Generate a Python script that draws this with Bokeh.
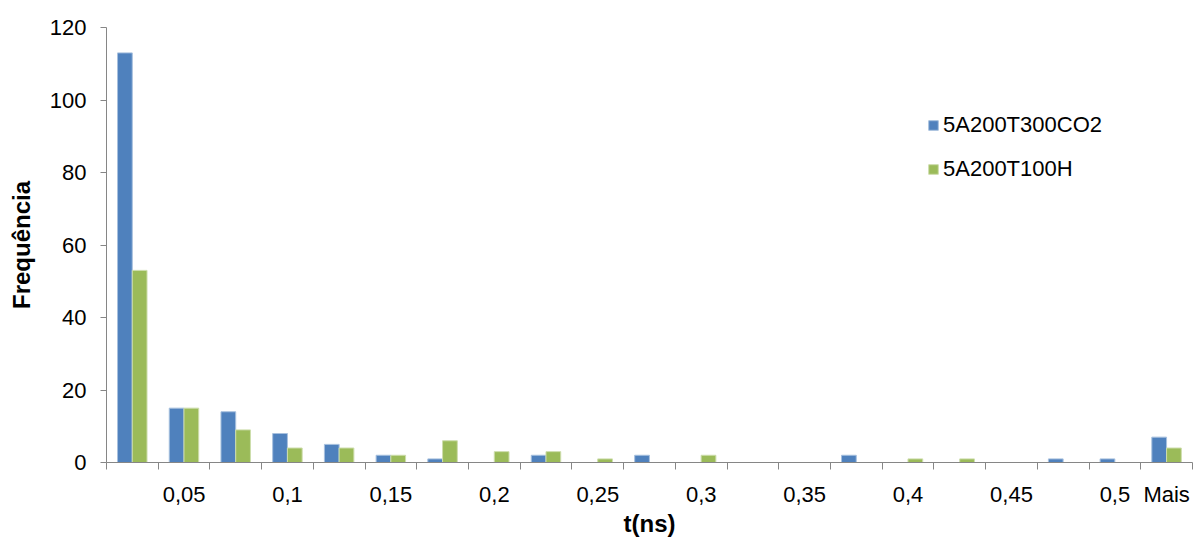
import numpy as np
from bokeh.plotting import figure
from bokeh.models import ColumnDataSource, FixedTicker, Range1d
from bokeh.embed import file_html
from bokeh.resources import INLINE

# ---- data ----
bin_labels = ["", "0,05", "", "0,1", "", "0,15", "", "0,2", "", "0,25", "",
              "0,3", "", "0,35", "", "0,4", "", "0,45", "", "0,5", "Mais"]
series_names = ["5A200T300CO2", "5A200T100H"]
co2_counts = [113, 15, 14, 8, 5, 2, 1, 0, 2, 0, 2, 0, 0, 0, 2, 0, 0, 0, 1, 1, 7]
h_counts = [53, 15, 9, 4, 4, 2, 6, 3, 3, 1, 0, 2, 0, 0, 0, 1, 1, 0, 0, 0, 4]
y_ticks = [0, 20, 40, 60, 80, 100, 120]

BLUE = "#4F81BD"
GREEN = "#9BBB59"
FONT = "Liberation Sans"

n = len(bin_labels)
idx = np.arange(n)
bar_w = 0.285
src = ColumnDataSource(dict(
    xb=idx + 0.356, xg=idx + 0.641,
    co2=co2_counts, h=h_counts,
))

p = figure(width=1196, height=539, output_backend="svg", toolbar_location=None,
           x_range=Range1d(0, n), y_range=Range1d(0, 120),
           min_border_left=106, min_border_right=4, min_border_top=27,
           min_border_bottom=77)
p.outline_line_color = None
p.xgrid.grid_line_color = None
p.ygrid.grid_line_color = None

p.vbar(x="xb", top="co2", width=bar_w, source=src, fill_color=BLUE,
       line_color="#A7C0DE", line_width=1, legend_label=series_names[0])
p.vbar(x="xg", top="h", width=bar_w, source=src, fill_color=GREEN,
       line_color="#CDDDAC", line_width=1, legend_label=series_names[1])

AX = "#868686"
# x axis
xa = p.xaxis[0]
centers = [float(i) + 0.5 for i in idx]
xa.ticker = FixedTicker(ticks=centers, minor_ticks=[float(i) for i in range(n + 1)])
xa.major_label_overrides = {c: lab for c, lab in zip(centers, bin_labels)}
xa.major_tick_out = 0
xa.major_tick_in = 0
xa.minor_tick_out = 7
xa.minor_tick_in = 0
xa.minor_tick_line_color = AX
xa.axis_line_color = AX
xa.major_label_standoff = 12
xa.major_label_text_font = FONT
xa.major_label_text_font_size = "22px"
xa.major_label_text_color = "black"
xa.axis_label = "t(ns)"
xa.axis_label_text_font = FONT
xa.axis_label_text_font_style = "bold"
xa.axis_label_text_font_size = "24px"
xa.axis_label_text_color = "black"
xa.axis_label_standoff = 0

ya = p.yaxis[0]
ya.ticker = FixedTicker(ticks=y_ticks, minor_ticks=[])
ya.major_tick_out = 6
ya.major_tick_in = 0
ya.major_tick_line_color = AX
ya.axis_line_color = AX
ya.major_label_standoff = 14
ya.major_label_text_font = FONT
ya.major_label_text_font_size = "22px"
ya.major_label_text_color = "black"
ya.axis_label = "Frequência"
ya.axis_label_text_font = FONT
ya.axis_label_text_font_style = "bold"
ya.axis_label_text_font_size = "24px"
ya.axis_label_text_color = "black"
ya.axis_label_standoff = 12

lg = p.legend[0]
lg.location = (821, 280)
lg.background_fill_alpha = 0
lg.border_line_alpha = 0
lg.padding = 0
lg.margin = 0
lg.spacing = 18
lg.glyph_width = 12
lg.glyph_height = 12
lg.label_height = 22
lg.label_standoff = 4
lg.label_text_font = FONT
lg.label_text_font_size = "22px"
lg.label_text_color = "black"

open("out.html", "w").write(file_html(p, INLINE))
